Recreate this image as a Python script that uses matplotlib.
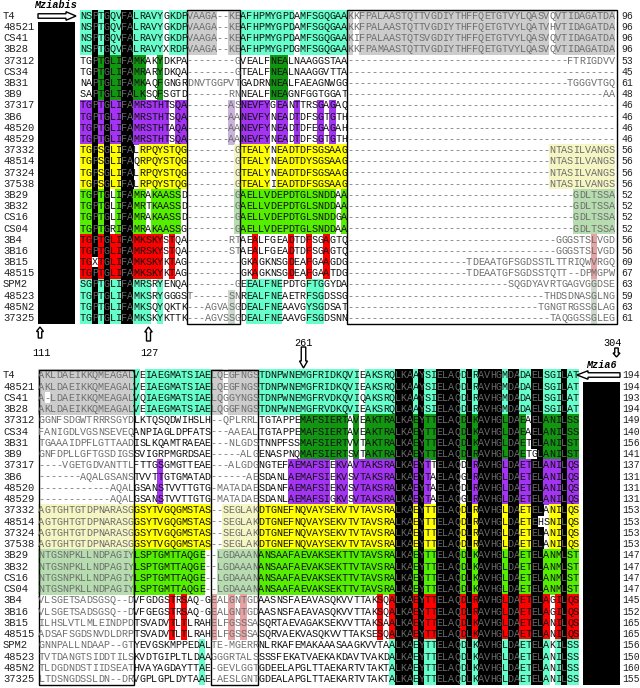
import math
import matplotlib
matplotlib.use("Agg")
import matplotlib.pyplot as plt
from matplotlib.patches import Rectangle, Polygon

names = ["T4", "48521", "CS41", "3B28", "37312", "CS34", "3B31", "3B9",
         "37317", "3B6", "48520", "48529", "37332", "48514", "37324", "37538",
         "3B29", "3B32", "CS16", "CS04", "3B4", "3B16", "3B15", "48515",
         "SPM2", "48523", "485N2", "37325"]

# upper block: 90 alignment columns
top_seqs = [
    "NSPTGQVFALRAVYGKDP" + "VAAGA--KE" + "AFHPMYGPDAMFSGQGAA" + "KKFPALAASTQTTVGDIYTHFFQETGTVYLQASVQVTIDAGATDA",
    "NSPTGQVFALRAVYGKDP" + "VAAGA--KE" + "AFHPMYGPDAMFSGQGAA" + "KKFPALAASTQTTVGDIYTHFFQETGTVYLQATVHVTIDAGATDA",
    "NSPTGQVFALRAVYGKDP" + "VAAGA--KE" + "AFHPMYGPDAMFSGQGAA" + "KIFPALAASTQTSVGDIYTHFFQETGTVYLQASVQVTIDAGATDA",
    "NSPTGQVFALRAVYXRDP" + "VAAGA--KE" + "AFHPMYGPDGMFSGQGAA" + "KKFPAMAASTQTTVGDIYTHFFQETGTVYLQASVQVTIDAGATDA",
    "TGPTGLIFAMKAKYDKPA" + "--------G" + "VEALFNEALNAAGGSTAA" + "-" * 37 + "FTRIGDVV",
    "TGPTGLIFAMRARYDKQA" + "--------G" + "TEALFNEALNAAGGVTTA" + "-" * 45,
    "NAPTGLIFAMKAQFGNGR" + "DNVTGGPVT" + "GADRNNEALFAEAGNWGG" + "-" * 37 + "TGGGVTGQ",
    "SAPTGLIFALKSQFSGTD" + "-------RN" + "NEALFNEAGNFGGTGGAT" + "-" * 43 + "AA",
    "TGPTGLIFAMRSTHTSQA" + "-------AS" + "NEVFYGEANTTRSGAGAQ" + "-" * 45,
    "TGPTGLIFAMRSTHTSQA" + "-------AA" + "NEVFYNEADTDFSGTGTH" + "-" * 45,
    "TGPTGLIFAMRSTHTAQA" + "-------AA" + "NEVFYNEADTDFEGAGAH" + "-" * 45,
    "TGPTGLIFAMRSTHTSQA" + "-------AA" + "NEVFYNEADTDFSGTGTH" + "-" * 45,
    "TGPSGLIFALRPQYSTQG" + "--------G" + "TEALYNEADTDFSGSAAG" + "-" * 34 + "NTASILVANGS",
    "TGPSGLIFAQRPQYSTQG" + "--------G" + "TEALYNEADTDYSGSAAG" + "-" * 34 + "NTASILVANGS",
    "TGPSGLIFALRPQYSTQG" + "--------G" + "TEALYNEADTDFSGSAAG" + "-" * 34 + "NTASILVANGS",
    "TGPSGLIFALRPQYSTQG" + "--------G" + "TEALYIEADTDFSGSAAG" + "-" * 34 + "NTASILVANGS",
    "TGPTGLIFAMRAKAASSD" + "--------G" + "AELLVDEPDTGLSNDDAA" + "-" * 38 + "GDLTSSA",
    "TGPTGLIFAMRTKAASSD" + "--------G" + "AELLVDEPDTGLSNDDAA" + "-" * 38 + "GDLTSSA",
    "TGPTGLIFAMRAKAASSD" + "--------G" + "AELLVDEPDTGLSNDDGA" + "-" * 38 + "GDLTSSA",
    "TGPTGRIFAMRAKAASSG" + "--------G" + "AELLVDEPDTGLSNDDAA" + "-" * 38 + "GDLTSSA",
    "TGPTGLIFAMKSKYSTQA" + "-------RT" + "AEALFGEADTDFSGAGTQ" + "-" * 35 + "GGGSTSLVGD",
    "TGPTGLIFAMRSKYSTQA" + "-------ST" + "AEALFGEADTDFSGAGTQ" + "-" * 35 + "GGGSTSLVGD",
    "TGXTGLIFAMKSKYKTAG" + "---------" + "GKAGKNSGDEAFGAAGDG" + "-" * 20 + "TDEAATGFSGDSSTLTTRIQWVRGQ",
    "TGPTGLIFAMKSKYKTAG" + "---------" + "GKAGKNSGDEAFGAATDG" + "-" * 20 + "TDEAATGFSGDSSTQTT--DPMGPW",
    "SGPTGLIFAMRSRYENQA" + "--------G" + "EEALFNEPDTGFTGGYDA" + "-" * 27 + "SQGDYAVRTGAGVGGDSE",
    "TGPTGLIFAMKSRYGGGS" + "T------SN" + "REALFNEAETRFSGDSSG" + "-" * 33 + "THDSDNASGLNG",
    "TGPTGLIFAMKSQYQKTK" + "---AGVASG" + "DEALFNEAAVGYSGDSAT" + "-" * 32 + "TGNGTRGSSGLAG",
    "TGPTGLIFAMKSKYKTTK" + "---AGVSSG" + "DEALFNEAAVGFSGDSNN" + "-" * 34 + "TAQGGSSGLEG",
]
top_ends = [96, 96, 96, 96, 53, 45, 61, 48, 46, 46, 46, 46, 56, 56, 56, 56,
            52, 52, 52, 52, 56, 56, 69, 67, 63, 59, 63, 61]

# lower block: 91 alignment columns
bot_seqs = [
    "AKLDAEIKKQMEAGAL" + "VEIAEGMATSIAE" + "LQEGFNGS" + "TDNPWNEMGFRIDKQVIEAKSRQLKAAYSIELAQDLRAVHGMDADAELSGILAT",
    "AKLDAEIKKQMEAGAL" + "VEIAEGMATSIAE" + "LQEGFNGS" + "TDNPWNEMGFRIDKQVIEAKSRQLKAAYSIELAQDLRAVHGMDADAELSGILAT",
    "A-LDAEIKKQMEAGAL" + "VQIAEGMATSIAE" + "LQGGYNGS" + "TDNPWNEMGFRVDKQVIQAKSRQLKAAYSIELAQDLRAVHGMDADAELSGILAT",
    "AKLDAEIKKQMEAGAL" + "VEIAEGMATSIAE" + "LQGGFNGS" + "TDNPWNEMGFRVDKQVIEAKSRQLKAAYSIELAQDLRAVHGMDADAELSGILAT",
    "GGNFSDGWTRRRSGYD" + "LKTQSQDWIHSLH" + "--QPLRRL" + "TGTAPPEMAFSIERTAVEAKTRALKAEYTTELAQDLKAVHGLDAEAELANILSS",
    "FANIGDLVGSNSEVEQ" + "ANPIAGLDPFATS" + "---AAEAL" + "TGTAPPEMAFSIERTAVEAKTRALKAEYTTELAQDLKAVHGLDAEAELANILSS",
    "TGAAAIDPFLGTTAAD" + "ISLKQAMTRAEAE" + "---NLGDS" + "TNNPFSSMAFSIERTVVTAKTRALKAEYTTELAQDLKAVHGLDAETELANILST",
    "GNFDPLLGFTGSDIGS" + "SVIGRPMGRDSAE" + "-----ALG" + "ENASPNQMAFSIERTSVTAKTRALKAEYTTELAQDLRAVHGLDAETGLANILST",
    "----VGETGDVANTTL" + "FTTGSGMGTTEAE" + "---ALGDG" + "NGTEFAEMAFSIEKVAVTAKSRALKAEYTTELAQDLRAVHGLDAETELANILQS",
    "-------AQALGSANS" + "TVVTTGTGMATAD" + "------AE" + "SDANLAEMAFSIEKVSVTAKSRALKAEYTAELAQGLRAVHGLDAETELANILQS",
    "------------AQAL" + "GSANSTVVTTGTG" + "-MATADAE" + "SDANFAEMAFSIEKVSVTAKSRALKAEYTAELAQDLRAVHGLDAETELANILQS",
    "------------AQAL" + "GSANSTVVTTGTG" + "-MATADAE" + "SDANLAEMAFSIGKVSVTAKSRALKAEYTAELAQGLRAVHGLDAETELANILQS",
    "AGTGHTGTDPNARASG" + "GSYTVGQGMSTAS" + "--SEGLAK" + "DTGNEFNQVAYSEKVTVTAVSRALKAEYTTELAQDLRAVHGLDAETELANILQS",
    "AGTGHTGTDPNARASG" + "GSYTVGQGMSTAS" + "--SEGLAK" + "DTGNEFNQVAYSEKVTVTAVSRALKAEYTTELAQDLRAVHGLDAETEHSNILQS",
    "AGTGHTGTDPNARASG" + "GSYTVGQGMSTAS" + "--SEGLAK" + "DTGNEFNQVAYSEKVTVTAVSRALKAEYTTELAQDLRAVHGLDAETELANILQS",
    "AGTGHTGTDPNARASG" + "GSYTVGQGMSTAS" + "--SEGLAK" + "DTGNEFNQVAYSEKVTVTAVSRALKAEYTTELAQDLRAVHGLDAETELANILQS",
    "NTGSNPKLLNDPAGIY" + "LSPTGMTTAQGE-" + "-LGDAAAN" + "ANSAAFAEVAKSEKTTVTAVSRALKAEYTTELAQDLKAVHGLDAETELANMLST",
    "NTGSNPKLLNDPAGIY" + "LSPTGMTTAQGE-" + "-LGDAAAN" + "ANSAAFAEVAKSEKTTVTAVSRALKAEYTTELAQDLKAVHGLDAETELANMLST",
    "NTGSNPKLLNDPAGIY" + "LSPTGMTTAQGE-" + "-LGDAAAN" + "ANSAAFAEVAKSEKTTVTAVSRALKAEYTTELAQDLKAVHGLDAETELANMLST",
    "NTGSNPKLLNDPAGIY" + "LSPTGMTTAQGE-" + "-LGDAAAN" + "ANSAAFAEVAKSEKTTVTAVSRALKAEYTTELAQDLKAVHGLDAETELANMLST",
    "VLSGETSADSGSQ--D" + "VFGDGSTRSAQ-G" + "EALGNTGD" + "AASNSFAEAVASQKVVTTAKSQALKAEYTTELAQDLRAVHGLDAETELAGILQS",
    "VLSGETSADSGSQ--D" + "VFGEGSTRSAQ-G" + "EALGNTGD" + "AASNSFAEAVASQKVVTTAKSQALKAEYTTELAQDLRAVHGLDAETELAGILQS",
    "ILHSLVTLMLEINDPD" + "TSVADVTLTLRAH" + "ELFGSSSA" + "SQRTAEVAGAKSEKVVTTAKSAALKAEYTTELAQDLKAVHGLDAETELANILQS",
    "ADSAFSGDSNVDLDRP" + "TSVADVTLTLRAH" + "ELFGSSSA" + "SQRVAEKVASQKVVTTAKSESQALKAEYTTELAQDLKAVHGLDAETELANILQS",
    "GNNPALLNDAAP--GT" + "YEVGSKMPPEDAL" + "TE-MGERR" + "NLRKAFEMAKAAASAAGKVVTAALKAEYTTELAQDLKAVHGLDAETELAKILSS",
    "TVTDANGTSIDDTILS" + "KVDTGIPLTLDAA" + "GGGRTALS" + "SSSFEKATVAEKAKDAVTVAKDALKAEYTTELAQDLKAVHGLDAETELANILSS",
    "TLDGDNDSTIIDSEAT" + "HVAYAGDAYTTAE" + "-GEVLGGT" + "GDEELAPGLTTAEKARTVTAKTALKAEYTTELAQDLKAVHGLDAETELANILSS",
    "LTDSNGDSSLDN--DR" + "VGPLGPLDYTAAE" + "-AESLGNT" + "GDEALAPGLTTAEKARTVTAKTALKAEYTTELAQDLKAVHGLDAETELANILSS",
]
bot_ends = [194, 194, 193, 194, 149, 140, 156, 141, 137, 131, 131, 131, 153, 153, 153, 153,
            147, 147, 147, 147, 145, 152, 165, 165, 156, 150, 160, 155]

# sequence groups (rows) and their shading
groups = [(0, 4), (4, 8), (8, 12), (12, 16), (16, 20), (20, 24), (24, 28)]
group_full = ["#66ffcc", "#129612", "#a334f2", "#ffff00", "#55ee00", "#ff0000", "#66ffcc"]
group_pale = ["#cccccc", "#b8dcb8", "#c9b3da", "#f6f6c4", "#b6dcb0", "#e5a3a3", "#ccd8cc"]
similar = ["FYW", "ILVM", "KR", "ST", "DE", "NQ"]

top_boxed = set(range(18, 27)) | set(range(45, 90))
bot_boxed = set(range(0, 16)) | set(range(29, 37))

CW = 5.94


def same_kind(chars):
    s = set(chars)
    if len(s) == 1:
        return True
    return any(s <= set(k) for k in similar)


def shade(seqs, boxed):
    out = [[None] * len(seqs[0]) for _ in seqs]
    for c in range(len(seqs[0])):
        col = [s[c] for s in seqs]
        res = [ch for ch in col if ch != "-"]
        if c not in boxed and res:
            best = max(set(res), key=res.count)
            if best != "X" and res.count(best) >= len(seqs) - 1:
                for r, ch in enumerate(col):
                    out[r][c] = "black" if ch == best else None
                continue
        for g, (a, b) in enumerate(groups):
            part = [ch for ch in col[a:b] if ch != "-"]
            if len(part) >= 3 and "X" not in part and same_kind(part):
                for r in range(a, b):
                    if col[r] != "-":
                        out[r][c] = group_pale[g] if c in boxed else group_full[g]
    return out


fig = plt.figure(figsize=(6.4, 6.88), dpi=100)
ax = fig.add_axes([0, 0, 1, 1])
ax.set_xlim(0, 640)
ax.set_ylim(688, 0)
ax.axis("off")

mono = "Liberation Mono"


def draw_block(seqs, ends, x0, y0, rh, boxed, end_x):
    colours = shade(seqs, boxed)
    for r, s in enumerate(seqs):
        y = y0 + r * rh
        ax.text(3, y, names[r], fontsize=7.6, family=mono, ha="left", va="center", color="#222222")
        for c, ch in enumerate(s):
            x = x0 + c * CW
            fc = colours[r][c]
            if fc:
                ax.add_patch(Rectangle((x - 0.2, y - rh / 2 - 0.2), CW + 0.4, rh + 0.4,
                                       facecolor=fc, edgecolor="none", lw=0))
            if fc == "black":
                tc = "#6a6a6a"
            elif ch == "-" or c in boxed:
                tc = "#6e6e6e"
            else:
                tc = "#111111"
            ax.text(x + CW / 2, y, ch, fontsize=7.3, family=mono, ha="center", va="center", color=tc)
        ax.text(end_x, y, str(ends[r]), fontsize=7.0, family=mono, ha="left", va="center", color="#222222")


def block_arrow(tx, ty, hx, hy, shaft, head, head_len):
    L = math.hypot(hx - tx, hy - ty)
    ux, uy = (hx - tx) / L, (hy - ty) / L
    px, py = -uy, ux
    bx, by = hx - ux * head_len, hy - uy * head_len
    pts = [(tx + px * shaft / 2, ty + py * shaft / 2), (bx + px * shaft / 2, by + py * shaft / 2),
           (bx + px * head / 2, by + py * head / 2), (hx, hy),
           (bx - px * head / 2, by - py * head / 2), (bx - px * shaft / 2, by - py * shaft / 2),
           (tx - px * shaft / 2, ty - py * shaft / 2)]
    ax.add_patch(Polygon(pts, closed=True, facecolor="white", edgecolor="black", lw=1.0))


# upper block
TX0, TY0, TRH = 80.0, 15.7, 11.2
draw_block(top_seqs, top_ends, TX0, TY0, TRH, top_boxed, 621)
t_top, t_bot = TY0 - TRH / 2, TY0 + 27.5 * TRH
for c0, c1 in [(18, 27), (45, 90)]:
    x_a, x_b = TX0 + c0 * CW, TX0 + c1 * CW + (2 if c1 == 90 else 0)
    ax.add_patch(Rectangle((x_a, t_top), x_b - x_a, t_bot - t_top, fill=False, edgecolor="black", lw=1.0))
ax.add_patch(Rectangle((38, 22), 37, t_bot - 22, facecolor="black", edgecolor="none"))
block_arrow(38, 16, 76, 16, 4.5, 8.5, 10)
ax.text(34, 5.5, "Mziabis", fontsize=7.3, family=mono, weight="bold", style="italic", ha="left", va="center")

block_arrow(40, 338, 40, 327, 3.5, 7, 4.5)
ax.text(41, 353, "111", fontsize=7.3, family=mono, ha="center", va="center")
block_arrow(148.5, 341, 148.5, 327, 4, 7.5, 5)
ax.text(149, 353, "127", fontsize=7.3, family=mono, ha="center", va="center")

# lower block
BX0, BY0, BRH = 38.5, 375.3, 11.25
draw_block(bot_seqs, bot_ends, BX0, BY0, BRH, bot_boxed, 622)
b_top, b_bot = BY0 - BRH / 2, BY0 + 27.5 * BRH
for c0, c1 in [(0, 16), (29, 37)]:
    x_a, x_b = BX0 + c0 * CW, BX0 + c1 * CW
    ax.add_patch(Rectangle((x_a, b_top), x_b - x_a, b_bot - b_top, fill=False, edgecolor="black", lw=1.0))
ax.add_patch(Rectangle((583, 381.5), 37, b_bot - 381.5, facecolor="black", edgecolor="none"))
block_arrow(620, 375, 577, 375, 4.5, 8.5, 11)
ax.text(586, 364.5, "Mzia6", fontsize=7.3, family=mono, weight="bold", style="italic", ha="left", va="center")

ax.text(303.5, 343, "261", fontsize=7.3, family=mono, ha="center", va="center")
block_arrow(303.5, 347, 303.5, 368, 4.5, 8, 7)
ax.text(612.5, 343, "304", fontsize=7.3, family=mono, ha="center", va="center")
block_arrow(616.5, 348, 616.5, 357, 3.5, 7, 4)

fig.savefig("out.png", dpi=100)
